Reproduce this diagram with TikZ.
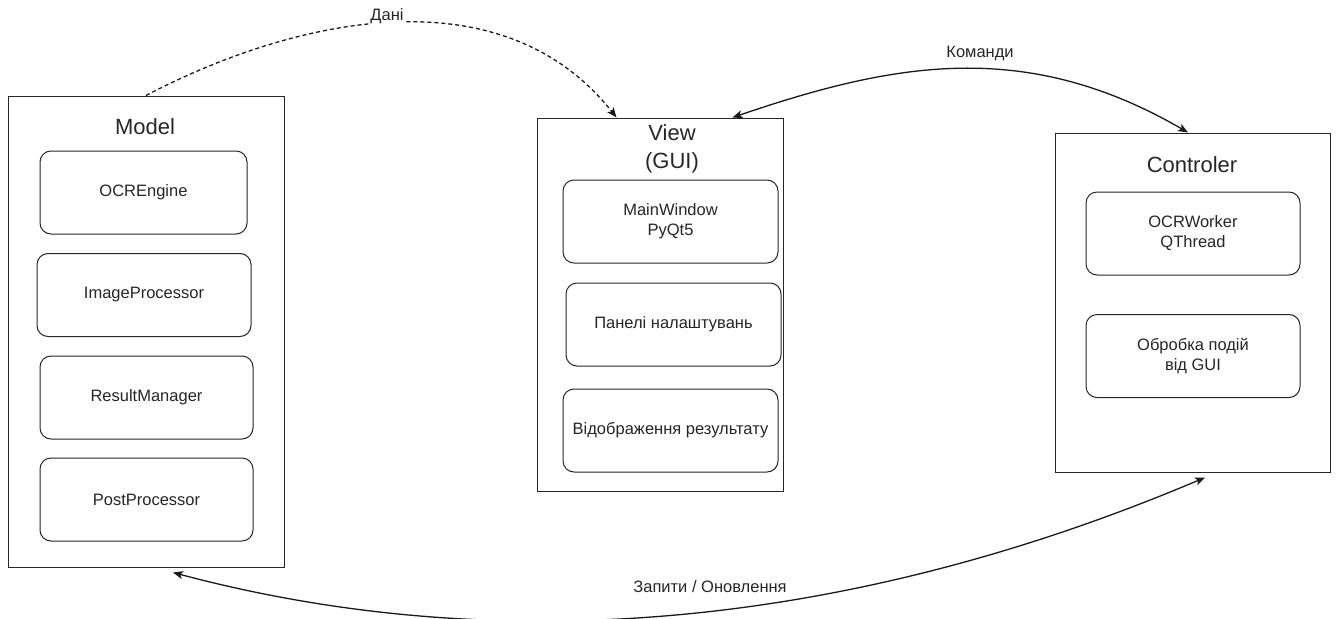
\documentclass[tikz,border=0pt]{standalone}
\usepackage{fontspec}
\setmainfont{Liberation Sans}
\usetikzlibrary{arrows.meta}

\begin{document}
\begin{tikzpicture}[x=1pt, y=1pt,
                    layer/.style={draw=black!85, line width=1pt, minimum width=#1, font=\fontsize{22}{28}\selectfont, text=black!85},
                    comp/.style={draw=black!85, line width=1pt, rounded corners=11pt, fill=white, minimum height=83pt, align=center, font=\fontsize{16.5}{20}\selectfont, text=black!85},
                    lbl/.style={font=\fontsize{16.5}{20}\selectfont, text=black!85, inner sep=1pt},
                    flow/.style={line width=1.3pt, black!90},
                    tip/.style={{Stealth[length=10pt,width=8pt,inset=2.5pt]}}]
                \useasboundingbox (0,0) rectangle (1337,-618);
                % MVC layers
                \node[layer=276pt, minimum height=471pt] (model) at (146,-331.5) {};
                \node[layer=246pt, minimum height=373pt] (view) at (660,-304.5) {};
                \node[layer=275pt, minimum height=339pt] (ctrl) at (1192.5,-302.5) {};
                \node[layer=10pt, draw=none] (modelT) at (145,-127) {Model};
                \node[layer=10pt, draw=none, align=center] (viewT) at (672,-149) {View\\(GUI)};
                \node[layer=10pt, draw=none] (ctrlT) at (1192,-165) {Controler};
                % components
                \foreach \n/\x/\y/\w/\t in {eng/143.5/-192.5/207/OCREngine,
                                            img/144/-295/214/ImageProcessor,
                                            res/146.5/-397.5/213/ResultManager,
                                            post/146.5/-499.5/213/PostProcessor,
                                            win/670.5/-221.5/215/{MainWindow\\PyQt5},
                                            pan/673.5/-324.5/215/Панелі налаштувань,
                                            out/670.5/-430.5/215/Відображення результату,
                                            wrk/1193/-233.5/214/{OCRWorker\\QThread},
                                            evt/1193/-356/214/{Обробка подій\\від GUI}}{
                        \node[comp, minimum width=\w pt] (\n) at (\x,\y) {\t};
                    }
                % connectors
                \coordinate (dIn) at ([xshift=80pt]view.north west);
                \coordinate (cOut) at ([xshift=196pt]view.north west);
                \coordinate (cIn) at ([xshift=-4.5pt]ctrl.north);
                \coordinate (qOut) at ([xshift=27pt, yshift=-5pt]model.south);
                \coordinate (qIn) at ([xshift=12.5pt, yshift=-5pt]ctrl.south);
                \draw[flow, dash pattern=on 4pt off 3pt, -{Stealth[length=10pt,width=8pt,inset=2.5pt]}]
                        (model.north) .. controls (290,-20) and (500,30) .. (dIn);
                \node[lbl, fill=white] (dani) at (387,-16) {Дані};
                \draw[flow, {Stealth[length=10pt,width=8pt,inset=2.5pt]}-{Stealth[length=10pt,width=8pt,inset=2.5pt]}]
                        (cOut) .. controls (895,-62) and (1026,-38.5) .. (cIn);
                \node[lbl] (cmd) at (980,-53) {Команди};
                \draw[flow, {Stealth[length=10pt,width=8pt,inset=2.5pt]}-{Stealth[length=10pt,width=8pt,inset=2.5pt]}]
                        (qOut) .. controls (463,-650) and (812,-644) .. (qIn);
                \node[lbl] (upd) at (710,-587) {Запити / Оновлення};
            \end{tikzpicture}
\end{document}
